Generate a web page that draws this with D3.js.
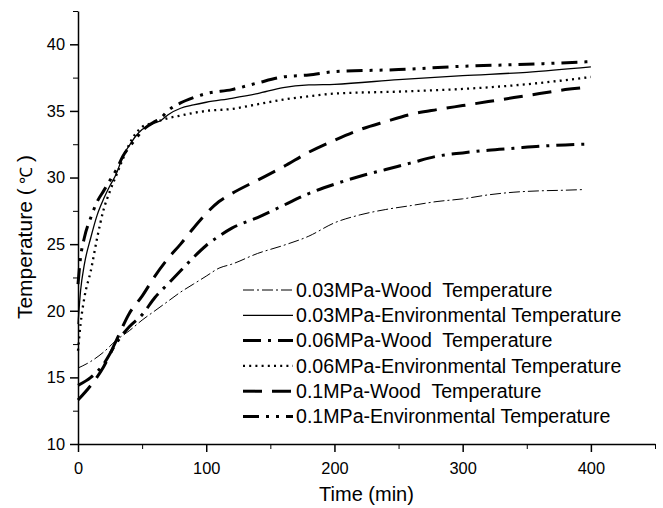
<!DOCTYPE html>
<html>
<head>
<meta charset="utf-8">
<script src="https://cdn.jsdelivr.net/npm/d3@7"></script>
<style>
    body { margin: 0; background: #fff; }
    text { font-family: "Liberation Sans", Arial, sans-serif; fill: #000; }
</style>
</head>
<body>
<div id="chart"></div>
<script>
    // values
    var envTime = [0, 2, 5, 10, 15, 20, 25, 30, 35, 40, 45, 50, 55, 60, 65, 70, 80, 90, 100, 120, 140, 160, 180, 200, 250, 300, 350, 400];
    var env003 = [19.0, 21.5, 23.5, 25.5, 27.2, 28.4, 29.4, 30.3, 31.6, 32.4, 33.1, 33.6, 33.9, 34.1, 34.3, 34.7, 35.2, 35.45, 35.65, 35.95, 36.3, 36.75, 36.95, 37.0, 37.35, 37.65, 37.9, 38.3];
    var env006 = [17.0, 19.0, 21.0, 23.0, 25.5, 27.6, 29.0, 30.2, 31.4, 32.5, 33.3, 33.8, 34.0, 34.2, 34.3, 34.45, 34.65, 34.85, 35.0, 35.15, 35.5, 35.85, 36.1, 36.3, 36.45, 36.65, 37.0, 37.55];
    var env01 = [22.0, 24.0, 25.5, 27.0, 28.2, 29.0, 29.8, 30.6, 31.6, 32.3, 32.9, 33.5, 33.9, 34.2, 34.5, 35.0, 35.6, 36.0, 36.3, 36.6, 37.1, 37.55, 37.7, 37.95, 38.1, 38.35, 38.5, 38.7];

    var woodTime = [0, 10, 20, 30, 40, 50, 60, 70, 80, 90, 100, 110, 120, 140, 160, 180, 200, 220, 240, 260, 280, 300, 320, 340, 360, 380, 395];
    var wood003 = [15.7, 16.2, 16.9, 17.8, 18.5, 19.3, 20.0, 20.7, 21.4, 22.0, 22.6, 23.2, 23.5, 24.3, 24.9, 25.6, 26.6, 27.2, 27.6, 27.9, 28.2, 28.4, 28.7, 28.9, 29.0, 29.05, 29.1];
    var wood006 = [14.4, 15.0, 16.0, 17.6, 18.8, 19.7, 21.0, 22.0, 23.0, 24.0, 24.9, 25.6, 26.2, 27.0, 27.9, 28.8, 29.5, 30.1, 30.6, 31.1, 31.6, 31.85, 32.05, 32.2, 32.35, 32.45, 32.5];
    var wood01 = [13.3, 14.4, 15.8, 17.8, 19.8, 21.1, 22.6, 23.9, 25.0, 26.2, 27.3, 28.2, 28.8, 29.8, 30.8, 31.9, 32.8, 33.6, 34.2, 34.75, 35.1, 35.4, 35.7, 36.0, 36.3, 36.6, 36.75];

    var seriesNames = [
        "0.03MPa-Wood  Temperature",
        "0.03MPa-Environmental Temperature",
        "0.06MPa-Wood  Temperature",
        "0.06MPa-Environmental Temperature",
        "0.1MPa-Wood  Temperature",
        "0.1MPa-Environmental Temperature"
    ];

    var xTicks = [0, 100, 200, 300, 400];
    var yTicks = [10, 15, 20, 25, 30, 35, 40];

    var w = 663,
        h = 508;
    var margin = { top: 11, right: 8, bottom: 64, left: 78 };
    var iw = w - margin.left - margin.right,
        ih = h - margin.top - margin.bottom;

    var series = [
        { name: seriesNames[0], time: woodTime, values: wood003, width: 1, dash: "11,3,2,3" },
        { name: seriesNames[1], time: envTime, values: env003, width: 1.3, dash: null },
        { name: seriesNames[2], time: woodTime, values: wood006, width: 3, dash: "18,7,3,7" },
        { name: seriesNames[3], time: envTime, values: env006, width: 2.3, dash: "2,4.2" },
        { name: seriesNames[4], time: woodTime, values: wood01, width: 3, dash: "19,10" },
        { name: seriesNames[5], time: envTime, values: env01, width: 3, dash: "16,7,3,7,3,7" }
    ];

    var svg = d3.select("#chart")
        .append("svg")
        .attr("width", w)
        .attr("height", h);

    var g = svg.append("g")
        .attr("transform", "translate(" + margin.left + "," + margin.top + ")");

    var x = d3.scaleLinear().domain([0, 450]).range([0, iw]),
        y = d3.scaleLinear().domain([10, 42.5]).range([ih, 0]);

    // minor ticks first, then the labelled axes on top
    g.append("g")
        .attr("transform", "translate(0," + ih + ")")
        .call(d3.axisBottom(x).tickValues(d3.range(50, 451, 100)).tickSize(5).tickFormat(""))
        .call(function (a) { a.select(".domain").remove(); });

    g.append("g")
        .call(d3.axisLeft(y).tickValues(d3.range(12.5, 42.6, 5)).tickSize(5).tickFormat(""))
        .call(function (a) { a.select(".domain").remove(); });

    var xAxis = g.append("g")
        .attr("transform", "translate(0," + ih + ")")
        .call(d3.axisBottom(x).tickValues(xTicks).tickSize(8).tickPadding(10).tickSizeOuter(0));

    var yAxis = g.append("g")
        .call(d3.axisLeft(y).tickValues(yTicks).tickSize(8).tickPadding(5).tickSizeOuter(0));

    [xAxis, yAxis].forEach(function (a) {
        a.selectAll("text").style("font-size", "16.4px");
        a.selectAll("line, path").attr("stroke-width", 1.5);
    });

    // axis titles
    svg.append("text")
        .attr("x", margin.left + iw / 2)
        .attr("y", 501)
        .attr("text-anchor", "middle")
        .style("font-size", "20px")
        .text("Time (min)");

    var yTitle = svg.append("text")
        .attr("transform", "translate(32,237) rotate(-90)")
        .attr("text-anchor", "middle")
        .style("font-size", "21px")
        .style("white-space", "pre");
    yTitle.append("tspan").text("Temperature (");
    yTitle.append("tspan").style("font-size", "17px").text(" \u2103 ");
    yTitle.append("tspan").text(")");

    var line = d3.line()
        .curve(d3.curveMonotoneX)
        .x(function (d) { return x(d[0]); })
        .y(function (d) { return y(d[1]); });

    g.selectAll(".curve")
        .data(series)
        .enter().append("path")
        .attr("class", "curve")
        .attr("fill", "none")
        .attr("stroke", "#000")
        .attr("stroke-width", function (d) { return d.width; })
        .attr("stroke-dasharray", function (d) { return d.dash; })
        .attr("d", function (d) {
            return line(d.time.map(function (t, i) { return [t, d.values[i]]; }));
        });

    // legend
    var legend = svg.append("g")
        .attr("transform", "translate(243,290)");

    var row = legend.selectAll(".row")
        .data(series)
        .enter().append("g")
        .attr("class", "row")
        .attr("transform", function (d, i) { return "translate(0," + (i * 25.3) + ")"; });

    row.append("line")
        .attr("x1", 0)
        .attr("x2", 50)
        .attr("stroke", "#000")
        .attr("stroke-width", function (d) { return d.width; })
        .attr("stroke-dasharray", function (d) { return d.dash; });

    row.append("text")
        .attr("x", 53)
        .attr("dy", "0.35em")
        .style("font-size", "19.6px")
        .style("white-space", "pre")
        .text(function (d) { return d.name; });
</script>
</body>
</html>
